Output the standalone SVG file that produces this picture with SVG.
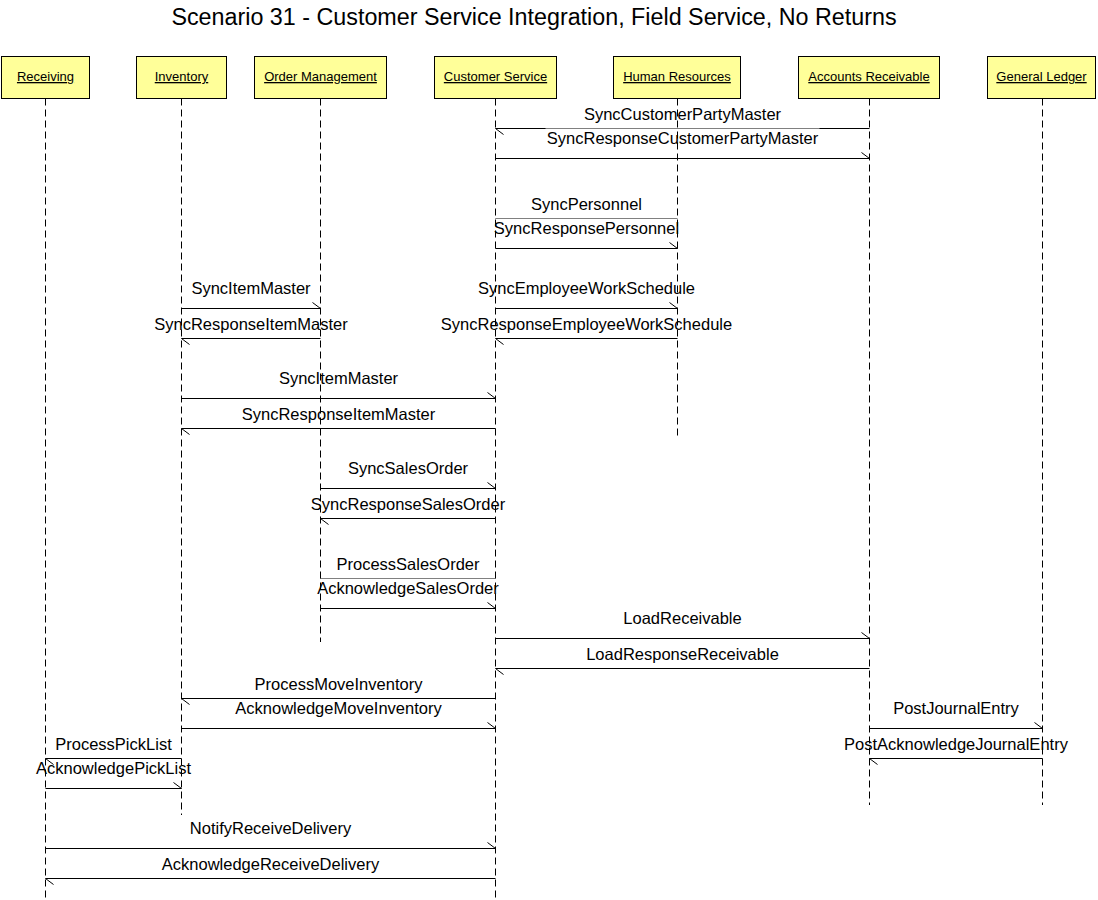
<svg xmlns="http://www.w3.org/2000/svg" width="1098" height="900" viewBox="0 0 1098 900">
<style>
.title{font-family:"Liberation Sans",Arial,sans-serif;font-size:23.3px;fill:#000;text-anchor:middle}
.hdr{font-family:"Liberation Sans",Arial,sans-serif;font-size:13px;fill:#000;text-anchor:middle;text-decoration:underline}
.box{fill:#ffff99;stroke:#000;stroke-width:1}
.life{stroke:#000;stroke-width:1;stroke-dasharray:7,4;fill:none}
.msg{stroke:#000;stroke-width:1;fill:none;marker-end:url(#half)}
.lbl{font-family:"Liberation Sans",Arial,sans-serif;font-size:16.5px;fill:#000;text-anchor:middle}
.bg{fill:#fff}
</style>
<defs>
<marker id="half" markerUnits="userSpaceOnUse" viewBox="0 0 20 20" markerWidth="20" markerHeight="20" refX="10" refY="10" orient="auto" overflow="visible">
<path d="M10,10 L2,4" stroke="#000" stroke-width="1" fill="none"/>
</marker>
</defs>
<rect width="1098" height="900" fill="#fff"/>
<text class="title" x="534" y="25">Scenario 31 - Customer Service Integration, Field Service, No Returns</text>

<g id="connectors">
<line class="msg" x1="869.5" y1="128.5" x2="495.5" y2="128.5"/>
<line class="msg" x1="495.5" y1="158.5" x2="869.5" y2="158.5"/>
<line class="msg" x1="677.5" y1="218.5" x2="495.5" y2="218.5"/>
<line class="msg" x1="495.5" y1="248.5" x2="677.5" y2="248.5"/>
<line class="msg" x1="181.5" y1="308.5" x2="320.5" y2="308.5"/>
<line class="msg" x1="320.5" y1="338.5" x2="181.5" y2="338.5"/>
<line class="msg" x1="495.5" y1="308.5" x2="677.5" y2="308.5"/>
<line class="msg" x1="677.5" y1="338.5" x2="495.5" y2="338.5"/>
<line class="msg" x1="181.5" y1="398.5" x2="495.5" y2="398.5"/>
<line class="msg" x1="495.5" y1="428.5" x2="181.5" y2="428.5"/>
<line class="msg" x1="320.5" y1="488.5" x2="495.5" y2="488.5"/>
<line class="msg" x1="495.5" y1="518.5" x2="320.5" y2="518.5"/>
<line class="msg" x1="495.5" y1="578.5" x2="320.5" y2="578.5"/>
<line class="msg" x1="320.5" y1="608.5" x2="495.5" y2="608.5"/>
<line class="msg" x1="495.5" y1="638.5" x2="869.5" y2="638.5"/>
<line class="msg" x1="869.5" y1="668.5" x2="495.5" y2="668.5"/>
<line class="msg" x1="495.5" y1="698.5" x2="181.5" y2="698.5"/>
<line class="msg" x1="181.5" y1="728.5" x2="495.5" y2="728.5"/>
<line class="msg" x1="869.5" y1="728.5" x2="1042.5" y2="728.5"/>
<line class="msg" x1="1042.5" y1="758.5" x2="869.5" y2="758.5"/>
<line class="msg" x1="181.5" y1="758.5" x2="45.5" y2="758.5"/>
<line class="msg" x1="45.5" y1="788.5" x2="181.5" y2="788.5"/>
<line class="msg" x1="45.5" y1="848.5" x2="495.5" y2="848.5"/>
<line class="msg" x1="495.5" y1="878.5" x2="45.5" y2="878.5"/>

<rect class="bg" x="545.5" y="128.5" width="274" height="10"/>
<rect class="bg" x="493" y="218.5" width="187" height="10"/>
<rect class="bg" x="315" y="578.5" width="186" height="10"/>

<text class="lbl" x="682.5" y="119.5">SyncCustomerPartyMaster</text>
<text class="lbl" x="682.5" y="143.5">SyncResponseCustomerPartyMaster</text>
<text class="lbl" x="586.5" y="209.5">SyncPersonnel</text>
<text class="lbl" x="586.5" y="233.5">SyncResponsePersonnel</text>
<text class="lbl" x="251" y="293.5">SyncItemMaster</text>
<text class="lbl" x="251" y="329.5">SyncResponseItemMaster</text>
<text class="lbl" x="586.5" y="293.5">SyncEmployeeWorkSchedule</text>
<text class="lbl" x="586.5" y="329.5">SyncResponseEmployeeWorkSchedule</text>
<text class="lbl" x="338.5" y="383.5">SyncItemMaster</text>
<text class="lbl" x="338.5" y="419.5">SyncResponseItemMaster</text>
<text class="lbl" x="408" y="473.5">SyncSalesOrder</text>
<text class="lbl" x="408" y="509.5">SyncResponseSalesOrder</text>
<text class="lbl" x="408" y="569.5">ProcessSalesOrder</text>
<text class="lbl" x="408" y="593.5">AcknowledgeSalesOrder</text>
<text class="lbl" x="682.5" y="623.5">LoadReceivable</text>
<text class="lbl" x="682.5" y="659.5">LoadResponseReceivable</text>
<text class="lbl" x="338.5" y="689.5">ProcessMoveInventory</text>
<text class="lbl" x="338.5" y="713.5">AcknowledgeMoveInventory</text>
<text class="lbl" x="956" y="713.5">PostJournalEntry</text>
<text class="lbl" x="956" y="749.5">PostAcknowledgeJournalEntry</text>
<text class="lbl" x="113.5" y="749.5">ProcessPickList</text>
<text class="lbl" x="113.5" y="773.5">AcknowledgePickList</text>
<text class="lbl" x="270.5" y="833.5">NotifyReceiveDelivery</text>
<text class="lbl" x="270.5" y="869.5">AcknowledgeReceiveDelivery</text>
</g>

<g id="receiving">
<line class="life" x1="45.5" y1="98.5" x2="45.5" y2="900"/>
<rect class="box" x="1.5" y="56.5" width="88" height="42"/>
<text class="hdr" x="45.5" y="81">Receiving</text>
</g>
<g id="inventory">
<line class="life" x1="181.5" y1="98.5" x2="181.5" y2="815"/>
<rect class="box" x="136.5" y="56.5" width="90" height="42"/>
<text class="hdr" x="181.5" y="81">Inventory</text>
</g>
<g id="order-management">
<line class="life" x1="320.5" y1="98.5" x2="320.5" y2="642"/>
<rect class="box" x="254.5" y="56.5" width="132" height="42"/>
<text class="hdr" x="320.5" y="81">Order Management</text>
</g>
<g id="customer-service">
<line class="life" x1="495.5" y1="98.5" x2="495.5" y2="900"/>
<rect class="box" x="434.5" y="56.5" width="122" height="42"/>
<text class="hdr" x="495.5" y="81">Customer Service</text>
</g>
<g id="human-resources">
<line class="life" x1="677.5" y1="98.5" x2="677.5" y2="438"/>
<rect class="box" x="613.5" y="56.5" width="127" height="42"/>
<text class="hdr" x="677" y="81">Human Resources</text>
</g>
<g id="accounts-receivable">
<line class="life" x1="869.5" y1="98.5" x2="869.5" y2="805"/>
<rect class="box" x="798.5" y="56.5" width="141" height="42"/>
<text class="hdr" x="869" y="81">Accounts Receivable</text>
</g>
<g id="general-ledger">
<line class="life" x1="1042.5" y1="98.5" x2="1042.5" y2="805"/>
<rect class="box" x="987.5" y="56.5" width="108" height="42"/>
<text class="hdr" x="1041.5" y="81">General Ledger</text>
</g>
</svg>
